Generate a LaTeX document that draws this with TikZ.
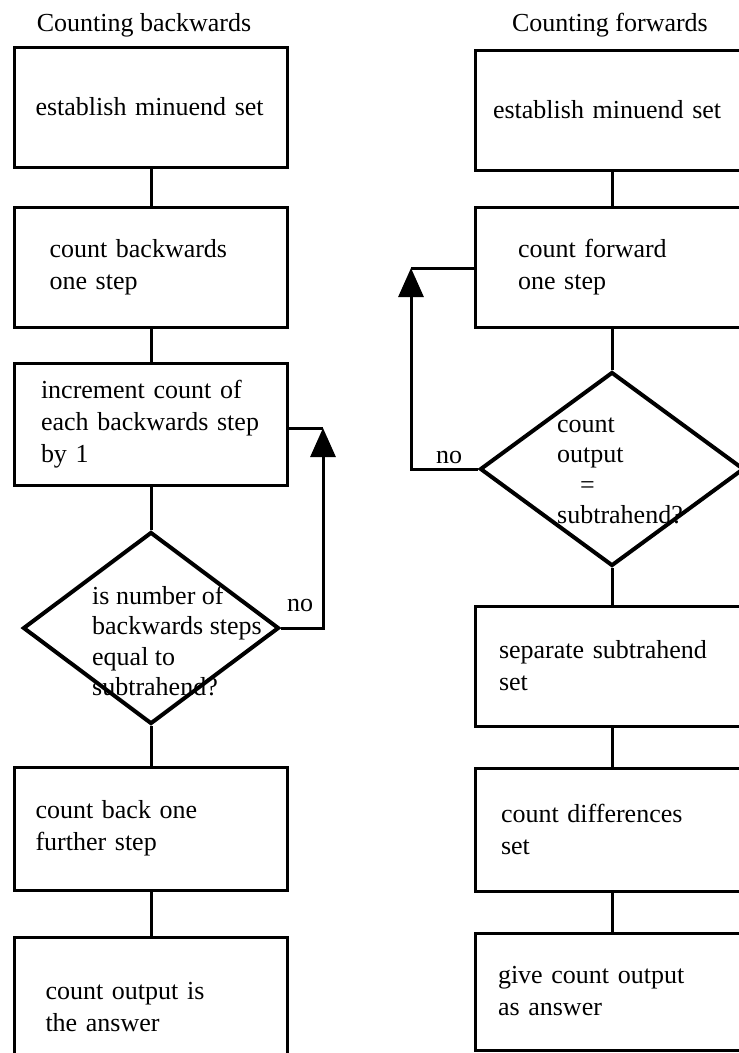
\documentclass[tikz,border=0pt]{standalone}
\usepackage{fontspec}
\setmainfont{Liberation Serif}
\usetikzlibrary{shapes.geometric,arrows.meta,positioning}

\begin{document}
\begin{tikzpicture}[
    x=1pt, y=-1pt,
    font=\fontsize{26}{32}\selectfont,
    stepbox/.style={rectangle, draw, line width=3pt, minimum width=273pt, minimum height=120pt, align=left, inner sep=0pt},
    testbox/.style={diamond, draw, line width=4pt, inner sep=0pt},
    testtext/.style={align=left, font=\fontsize{26}{30.5}\selectfont},
    link/.style={line width=3pt},
    arrow/.style={line width=3pt, -{Triangle[length=29pt, width=25pt]}}
]
    \useasboundingbox (0,0) rectangle (739,1053);
    \clip (0,0) rectangle (739,1053);

    % Counting backwards
    \node (lt) at (144,25) {Counting backwards};
    \node[stepbox, text width=231pt] (lb1) at (151,107) {establish minuend set};
    \node[stepbox, text width=203pt] (lb2) at (151,267) {count backwards\\one step};
    \node[stepbox, text width=220pt, minimum height=122pt] (lb3) at (151,424) {increment count of\\each backwards step\\by 1};
    \node[testbox, minimum width=256pt, minimum height=192pt] (ld) at (151,628) {};
    \node[testtext] (ldt) at (177,641) {is number of\\backwards steps\\equal to\\subtrahend?};
    \node[stepbox, text width=231pt, minimum height=123pt] (lb4) at (151,828.5) {count back one\\further step};
    \node[stepbox, text width=211pt, minimum height=140pt] (lb5) at (151,1007) {count output is\\the answer};

    \draw[link] (lb1) -- (lb2);
    \draw[link] (lb2) -- (lb3);
    \draw[link] (lb3) -- (ld);
    \draw[link] (ld) -- (lb4);
    \draw[link] (lb4) -- (lb5);

    \coordinate (lnoup) at (323,428);
    \draw[arrow] (ld.east) -| (lnoup);
    \draw[link] (lnoup) -- (lb3.east |- lnoup);
    \node (lno) at (300,605) {no};

    % Counting forwards
    \node (rt) at (610,25) {Counting forwards};
    \node[stepbox, text width=238pt] (rb1) at (612,110) {establish minuend set};
    \node[stepbox, text width=188pt] (rb2) at (612,267.5) {count forward\\one step};
    \node[testbox, minimum width=264pt, minimum height=194pt] (rd) at (612,469) {};
    \node[testtext] (rdt) at (620,471) {count\\output\\\hspace*{23pt}=\\subtrahend?};
    \node[stepbox, text width=226pt] (rb3) at (612,666) {separate subtrahend\\set};
    \node[stepbox, text width=222pt, minimum height=123pt] (rb4) at (612,829.5) {count differences\\set};
    \node[stepbox, text width=228pt, minimum height=117pt] (rb5) at (612,991.5) {give count output\\as answer};

    \draw[link] (rb1) -- (rb2);
    \draw[link] (rb2) -- (rd);
    \draw[link] (rd) -- (rb3);
    \draw[link] (rb3) -- (rb4);
    \draw[link] (rb4) -- (rb5);

    \coordinate (rnoup) at (411,268);
    \draw[arrow] (rd.west) -| (rnoup);
    \draw[link] (rnoup) -- (rb2.west |- rnoup);
    \node (rno) at (449,457) {no};
\end{tikzpicture}
\end{document}
